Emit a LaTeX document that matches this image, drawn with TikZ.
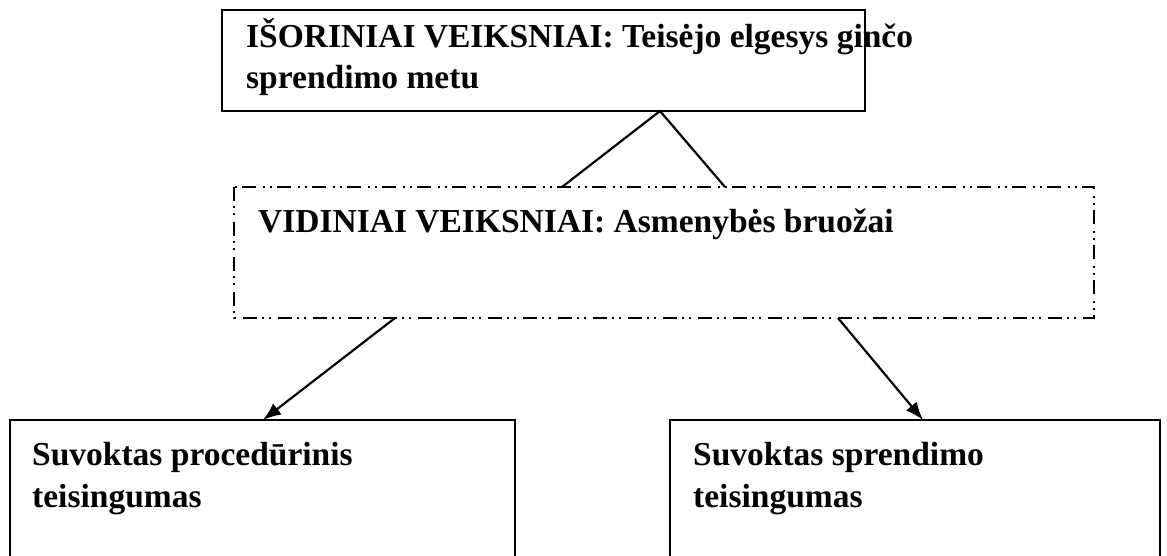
\documentclass[tikz,border=0pt]{standalone}
\usepackage{fontspec}
\setmainfont{Liberation Serif}
\usetikzlibrary{arrows.meta}
\begin{document}
\begin{tikzpicture}[x=1pt,y=-1pt,
  box/.style={draw=black,line width=1.5pt},
  dashbox/.style={draw=black,line width=1.5pt,dash pattern=on 14pt off 5pt on 2pt off 5pt on 2pt off 7pt},
  txt/.style={anchor=base west,inner sep=0pt,font=\fontsize{33.5}{41}\selectfont\bfseries},
  conn/.style={draw=black,line width=2.2pt},
  arr/.style={conn,-{Latex[length=18pt,width=14pt]}}]
\useasboundingbox (0,0) rectangle (1167,556);
\clip (0,0) rectangle (1167,556);
% top box
\draw[box] (222,10) rectangle (865,111);
\coordinate (apex) at (660,111);
\node[txt] (t1) at (246,48) {IŠORINIAI VEIKSNIAI: Teisėjo elgesys ginčo};
\node[txt] (t2) at (246,89) {sprendimo metu};
% middle box
\draw[dashbox] (234,187) rectangle (1094,318);
\coordinate (ml) at (562,187);
\coordinate (mr) at (725,187);
\coordinate (mbl) at (395,318);
\coordinate (mbr) at (838,318);
\node[txt] (m1) at (258,233) {VIDINIAI VEIKSNIAI: Asmenybės bruožai};
% bottom boxes
\draw[box] (10,600) -- (10,420) -- (515,420) -- (515,600);
\draw[box] (670,600) -- (670,420) -- (1160,420) -- (1160,600);
\coordinate (bl) at (263,420);
\coordinate (br) at (923,420);
\node[txt] (l1) at (32,465) {Suvoktas procedūrinis};
\node[txt] (l2) at (32,507) {teisingumas};
\node[txt] (r1) at (693,465) {Suvoktas sprendimo};
\node[txt] (r2) at (693,507) {teisingumas};
% connectors
\draw[conn] (ml) -- (apex) -- (mr);
\draw[arr] (mbl) -- (bl);
\draw[arr] (mbr) -- (br);
\end{tikzpicture}
\end{document}
